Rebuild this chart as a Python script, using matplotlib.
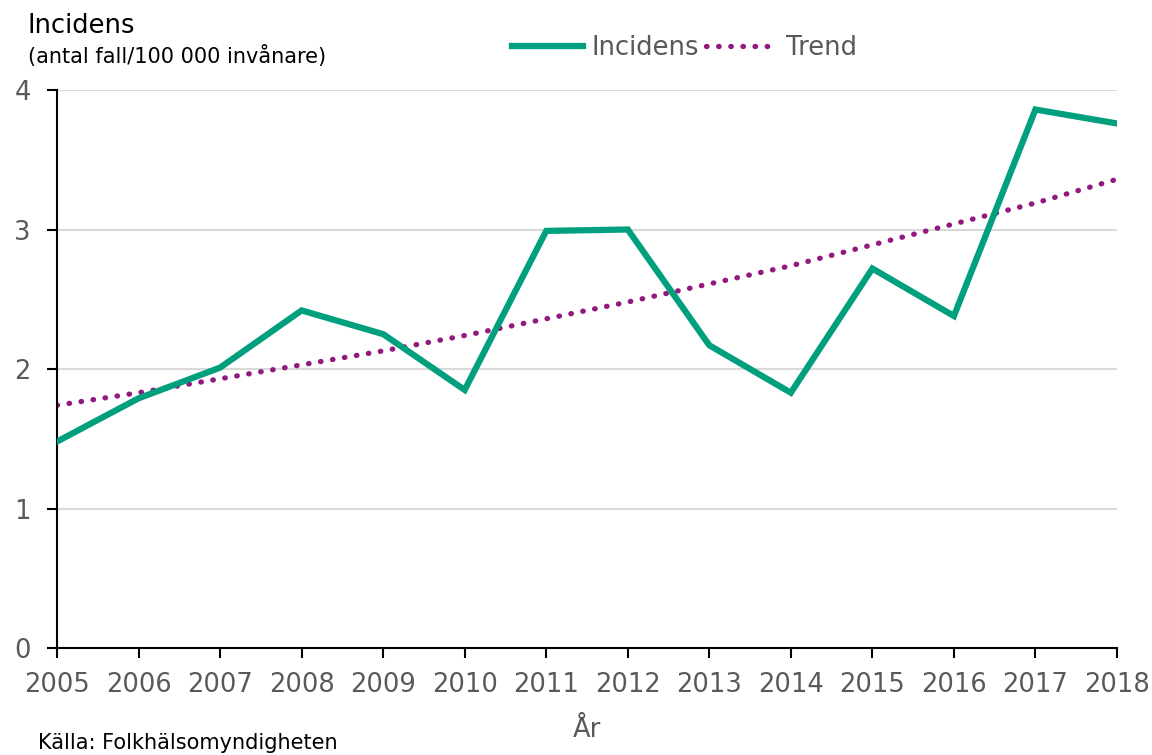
import numpy as np
import matplotlib.pyplot as plt

years = [2005, 2006, 2007, 2008, 2009, 2010, 2011, 2012, 2013, 2014, 2015, 2016, 2017, 2018]
incidens = [1.48, 1.79, 2.01, 2.42, 2.25, 1.85, 2.99, 3.00, 2.17, 1.83, 2.72, 2.38, 3.86, 3.76]
# exponential trend line
trend = [1.74, 1.83, 1.93, 2.03, 2.13, 2.24, 2.36, 2.48, 2.61, 2.74, 2.89, 3.04, 3.19, 3.36]

teal = '#00A07F'
purple = '#93197F'
grey = '#595959'

fig = plt.figure(figsize=(11.52, 7.55), dpi=100)
ax = fig.add_axes([0.0495, 0.1417, 0.9201, 0.7391])

ax.plot(years, incidens, color=teal, lw=4.5, solid_joinstyle='miter', label='Incidens', zorder=3)
ax.plot(years, trend, color=purple, lw=3.8, linestyle=(0, (0.1, 2.2)),
        dash_capstyle='round', label='Trend', zorder=2)

ax.set_xlim(2005, 2018)
ax.set_ylim(0, 4)
ax.set_xticks(years)
ax.set_yticks([0, 1, 2, 3, 4])
ax.yaxis.grid(True, color='#d9d9d9', lw=1.5)
ax.set_axisbelow(True)
for s in ['top', 'right']:
    ax.spines[s].set_visible(False)
for s in ['left', 'bottom']:
    ax.spines[s].set_linewidth(1.5)
ax.tick_params(axis='both', labelsize=18.5, labelcolor=grey, width=1.5, length=7, direction='out')
ax.tick_params(axis='x', pad=10)
ax.tick_params(axis='y', pad=12)

ax.set_xlabel('År', fontsize=18.5, color=grey, labelpad=14)

fig.text(0.024, 0.956, 'Incidens', fontsize=18.5, color='black', va='baseline')
fig.text(0.024, 0.917, '(antal fall/100 000 invånare)', fontsize=15, color='black', va='baseline')
fig.text(0.033, 0.008, 'Källa: Folkhälsomyndigheten', fontsize=15, color='black', va='baseline')

leg = fig.legend(loc='center', bbox_to_anchor=(0.594, 0.937), ncol=2, frameon=False,
                 fontsize=18.5, handlelength=2.8, handletextpad=0.3, columnspacing=0.3)
for t in leg.get_texts():
    t.set_color(grey)

fig.savefig('out.png', dpi=100)
